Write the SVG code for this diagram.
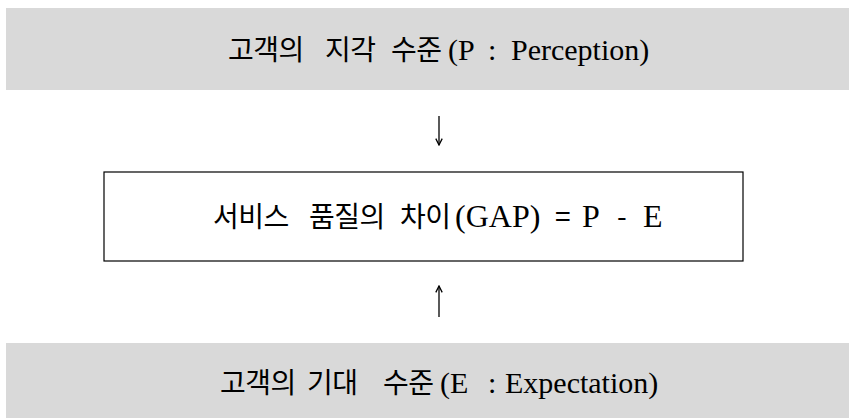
<svg xmlns="http://www.w3.org/2000/svg" width="849" height="418" viewBox="0 0 849 418">
<style>
text{fill:#000}
.k{font-family:"Noto Sans CJK KR","Noto Sans",sans-serif;font-size:28px;letter-spacing:-0.5px}
.l{font-family:"Liberation Serif","Noto Sans CJK KR",serif;font-size:30px}
.lm{font-family:"Liberation Serif","Noto Sans CJK KR",serif;font-size:32px}
.gray{fill:#d9d9d9}
.box{fill:#fff;stroke:#000;stroke-width:1.2}
.c{stroke:#000;stroke-width:1.3;fill:none}
</style>
<defs>
<marker id="ah" viewBox="0 0 10 10" refX="9" refY="5" markerWidth="8" markerHeight="8" orient="auto" markerUnits="userSpaceOnUse">
<path d="M1,1 L9,5 L1,9" fill="none" stroke="#000" stroke-width="1.6"/>
</marker>
</defs>
<rect width="849" height="418" fill="#fff"/>
<g id="perception">
<rect class="gray" x="6" y="8" width="843" height="82"/>
<text y="60"><tspan class="k" x="228">고객의</tspan><tspan class="k" x="325">지각</tspan><tspan class="k" x="391">수준</tspan><tspan class="l" x="448">(P</tspan><tspan class="l" x="488">:</tspan><tspan class="l" x="511">Perception)</tspan></text>
</g>
<g id="gap">
<rect class="box" x="104" y="172" width="639" height="89"/>
<text y="227"><tspan class="k" x="213">서비스</tspan><tspan class="k" x="309">품질의</tspan><tspan class="k" x="400">차이</tspan><tspan class="lm" x="455">(GAP)</tspan><tspan class="k" x="555">=</tspan><tspan class="lm" x="582">P</tspan><tspan class="k" x="617">-</tspan><tspan class="lm" x="643">E</tspan></text>
</g>
<g id="expectation">
<rect class="gray" x="6" y="343" width="843" height="75"/>
<text y="393"><tspan class="k" x="220">고객의</tspan><tspan class="k" x="307">기대</tspan><tspan class="k" x="383">수준</tspan><tspan class="l" x="440">(E</tspan><tspan class="l" x="488">:</tspan><tspan class="l" x="505">Expectation)</tspan></text>
</g>
<g id="connectors">
<line class="c" x1="439" y1="116" x2="439" y2="145" marker-end="url(#ah)"/>
<line class="c" x1="439" y1="317" x2="439" y2="286" marker-end="url(#ah)"/>
</g>
</svg>
